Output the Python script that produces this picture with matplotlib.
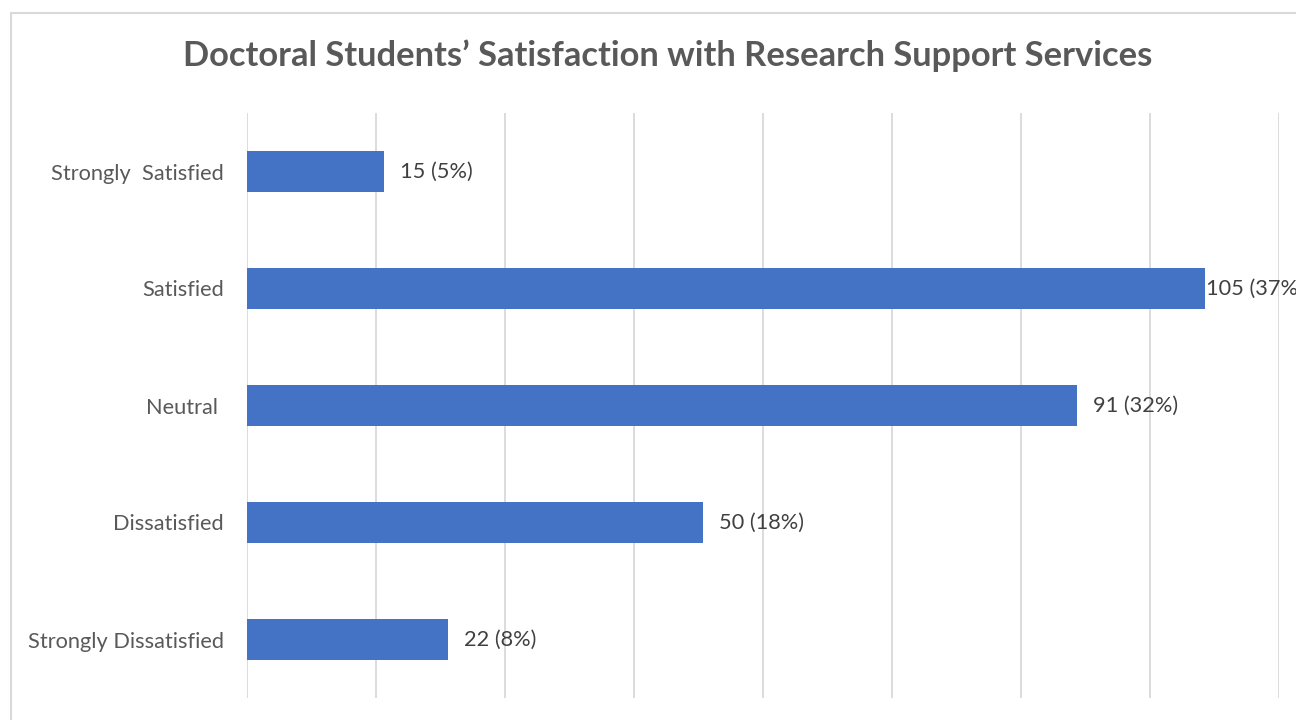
import matplotlib.pyplot as plt
import matplotlib.patches as mpatches
import numpy as np

plt.rcParams['font.family'] = ['Lato', 'DejaVu Sans']

# data
categories = ["Strongly  Satisfied", "Satisfied", "Neutral ", "Dissatisfied", "Strongly Dissatisfied"]
counts = [15, 105, 91, 50, 22]
percents = [5, 37, 32, 18, 8]

x_max = 113.1
grid_step = x_max / 8

fig = plt.figure(figsize=(12.96, 7.2), dpi=100)
ax = fig.add_axes([247 / 1296, 1 - 698 / 720, (1279 - 247) / 1296, (698 - 113) / 720])

# chart frame (only left and top edges visible in the crop)
frame = mpatches.Rectangle((11 / 1296, -0.1), 1.2, 1.1 - 13 / 720, transform=fig.transFigure,
                           fill=False, edgecolor='#d9d9d9', linewidth=1.5, zorder=0)
fig.patches.append(frame)

y = np.arange(len(categories))
ax.barh(y, counts, height=0.35, color='#4472C4', zorder=2)

ax.set_xlim(0, x_max)
ax.set_ylim(len(categories) - 0.5, -0.5)
ax.set_xticks(np.arange(0, x_max + 0.01, grid_step))
ax.xaxis.grid(True, color='#d9d9d9', linewidth=1.3, zorder=0)
ax.tick_params(axis='x', length=0, labelbottom=False)
ax.tick_params(axis='y', length=0, pad=16.5, labelsize=15.7, labelcolor='#595959')
ax.set_yticks(y)
ax.set_yticklabels(categories)
for s in ax.spines.values():
    s.set_visible(False)

# data labels
for yi, c, p in zip(y, counts, percents):
    off = 1.75 if c + 12 < x_max else 0.1
    ax.text(c + off, yi, f"{c} ({p}%)", va='center', ha='left', fontsize=15.7,
            color='#404040', clip_on=False)

fig.text(668 / 1296, 1 - 56 / 720, "Doctoral Students\u2019 Satisfaction with Research Support Services",
         ha='center', va='center', fontsize=24.8, fontweight='bold', color='#595959')

fig.savefig('out.png', dpi=100)
